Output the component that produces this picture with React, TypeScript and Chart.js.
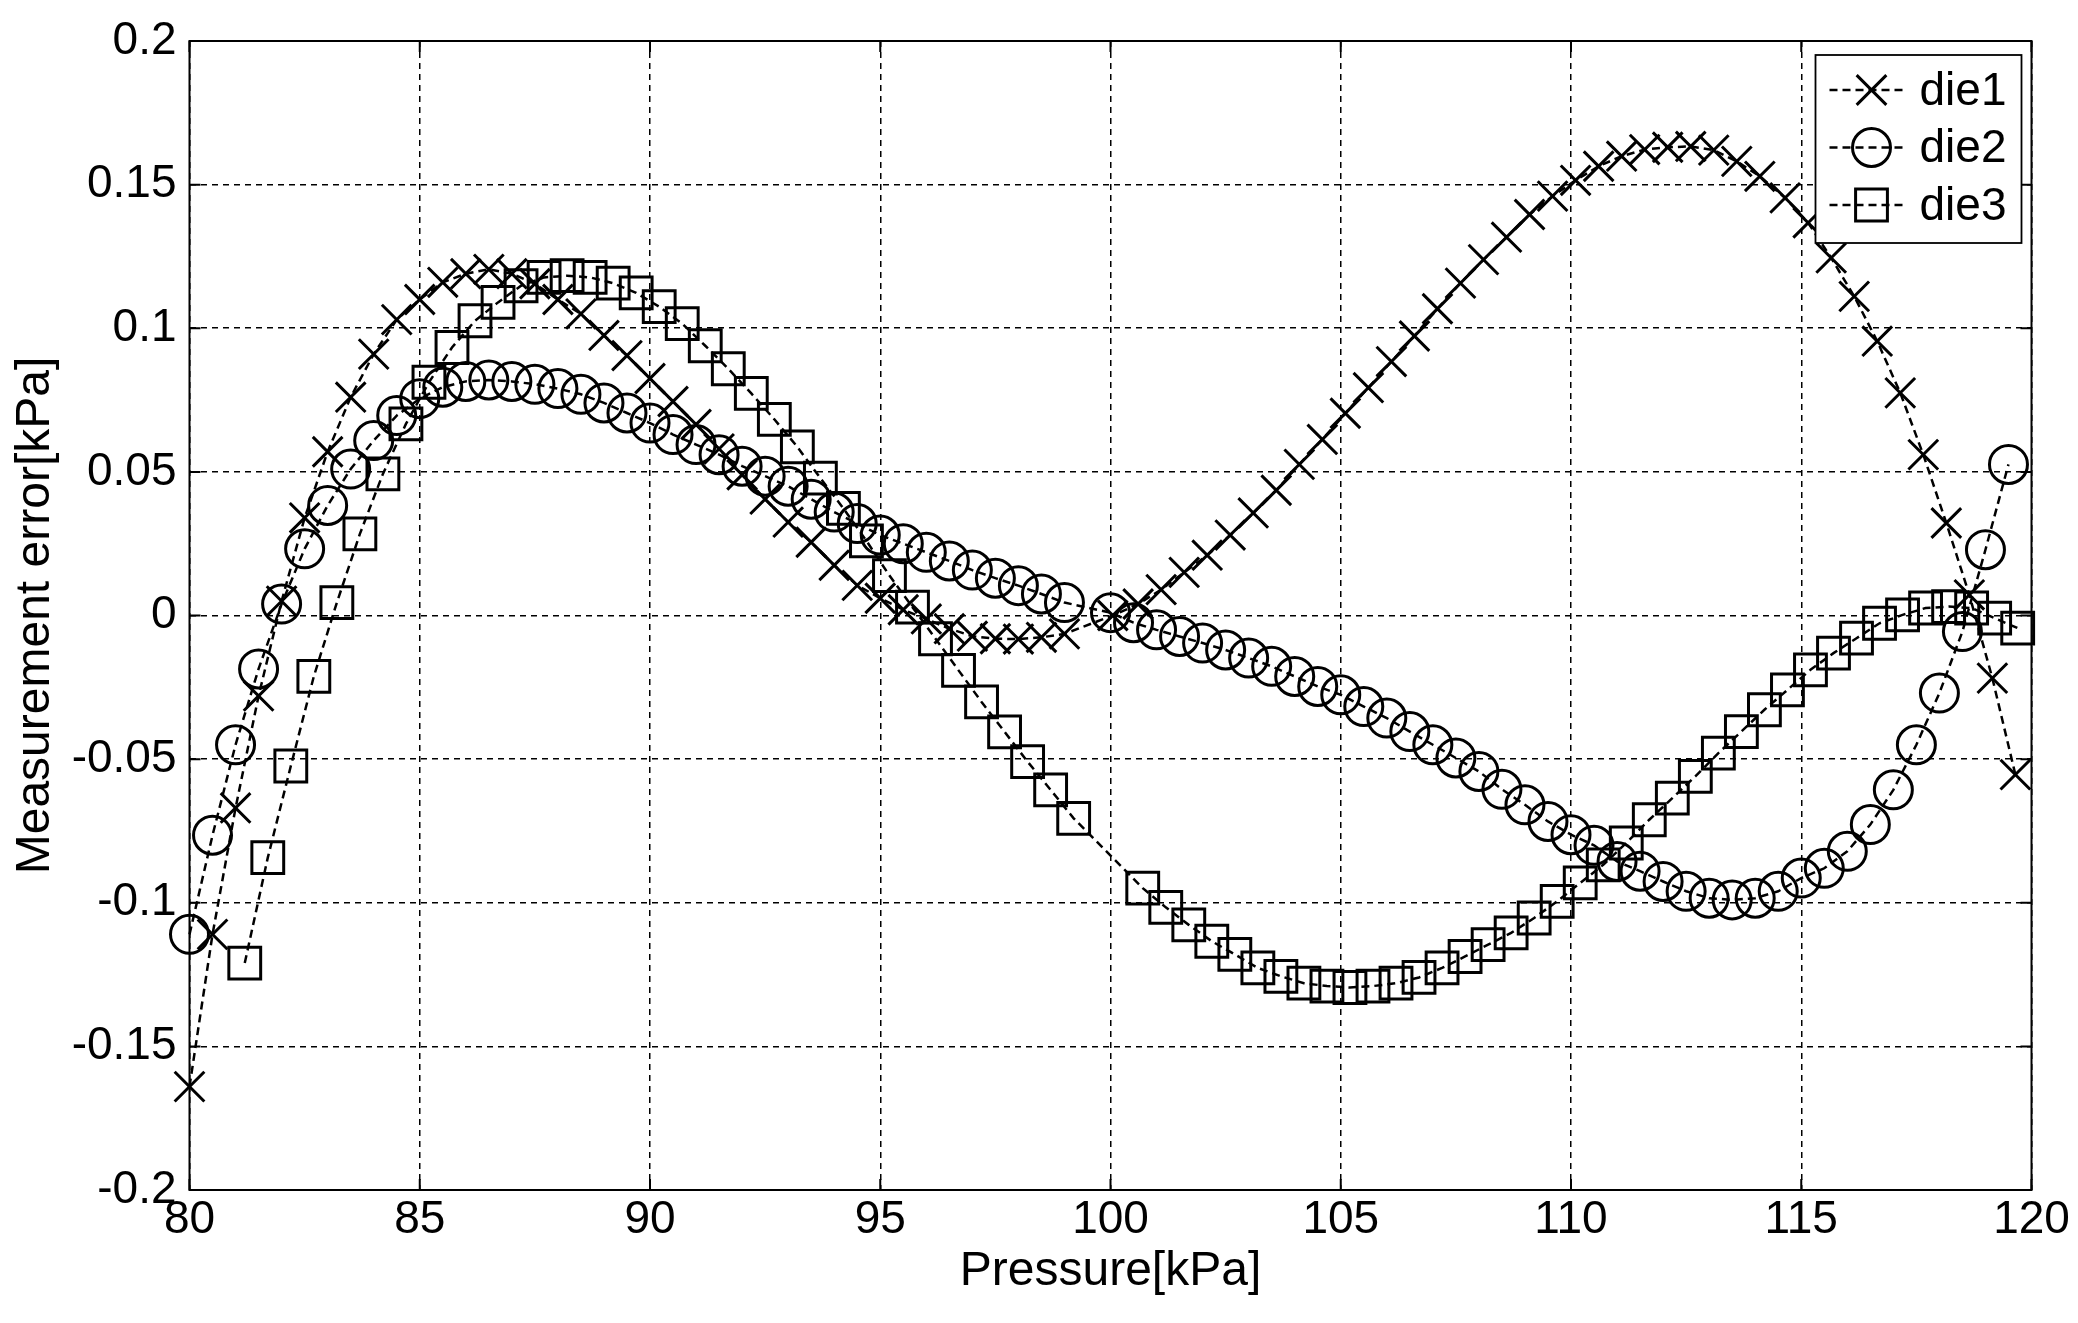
import { useEffect, useRef } from 'react'
import { Chart, registerables } from 'chart.js'
import { drawPoint } from 'chart.js/helpers'

Chart.register(...registerables)

const DIE1_X = [
  80, 80.5, 81, 81.5, 82, 82.5, 83, 83.5, 84, 84.5, 85, 85.5, 86, 86.5, 87, 87.5,
  88, 88.5, 89, 89.5, 90, 90.5, 91, 91.5, 92, 92.5, 93, 93.5, 94, 94.5, 95, 95.5,
  96, 96.5, 97, 97.5, 98, 98.5, 99,
  100.05, 100.6, 101.1, 101.6, 102.1, 102.6, 103.1, 103.6, 104.1, 104.6, 105.1,
  105.6, 106.1, 106.6, 107.1, 107.6, 108.1, 108.6, 109.1, 109.6, 110.1, 110.6,
  111.1, 111.6, 112.1, 112.6, 113.1, 113.6, 114.1, 114.65, 115.15, 115.65,
  116.15, 116.65, 117.15, 117.65, 118.15, 118.65, 119.15, 119.65,
]
const DIE1_Y = [
  -0.164, -0.111, -0.067, -0.028, 0.005, 0.034, 0.057, 0.076, 0.091, 0.103,
  0.11, 0.116, 0.119, 0.1205, 0.119, 0.1155, 0.11, 0.105, 0.0975, 0.0905,
  0.0825, 0.0745, 0.0665, 0.058, 0.049, 0.0405, 0.0325, 0.0255, 0.0175, 0.0105,
  0.006, 0.002, -0.0012, -0.0046, -0.0072, -0.0081, -0.0082, -0.0076, -0.0064,
  0.0, 0.004, 0.009, 0.015, 0.021, 0.028, 0.0357, 0.0436, 0.0526, 0.0613,
  0.0704, 0.0793, 0.0884, 0.0973, 0.1068, 0.1157, 0.1239, 0.1317, 0.1396, 0.146,
  0.1515, 0.1564, 0.1599, 0.1622, 0.163, 0.1633, 0.162, 0.1581, 0.1529, 0.1454,
  0.1367, 0.1245, 0.1111, 0.0955, 0.0775, 0.056, 0.0322, 0.0072, -0.0218, -0.0554,
]

const DIE2_X = [
  80, 80.5, 81, 81.5, 82, 82.5, 83, 83.5, 84, 84.5, 85, 85.5, 86, 86.5, 87, 87.5,
  88, 88.5, 89, 89.5, 90, 90.5, 91, 91.5, 92, 92.5, 93, 93.5, 94, 94.5, 95, 95.5,
  96, 96.5, 97, 97.5, 98, 98.5, 99,
  100, 100.5, 101, 101.5, 102, 102.5, 103, 103.5, 104, 104.5, 105, 105.5, 106,
  106.5, 107, 107.5, 108, 108.5, 109, 109.5, 110, 110.5, 111, 111.5, 112, 112.5,
  113, 113.5, 114, 114.5, 115, 115.5, 116, 116.5, 117, 117.5, 118, 118.5, 119, 119.5,
]
const DIE2_Y = [
  -0.111, -0.0765, -0.045, -0.0186, 0.004, 0.0232, 0.0383, 0.051, 0.0609, 0.0696,
  0.0755, 0.0795, 0.0815, 0.082, 0.0815, 0.0805, 0.079, 0.077, 0.074, 0.0705,
  0.067, 0.063, 0.0595, 0.056, 0.052, 0.0485, 0.045, 0.0405, 0.036, 0.032,
  0.028, 0.025, 0.022, 0.019, 0.0158, 0.013, 0.0104, 0.0075, 0.0045,
  0.001, -0.0025, -0.005, -0.0073, -0.0096, -0.012, -0.0148, -0.0177, -0.0212,
  -0.0247, -0.0276, -0.0317, -0.0357, -0.0404, -0.045, -0.0496, -0.0543, -0.0605,
  -0.0659, -0.0717, -0.0763, -0.08, -0.0856, -0.089, -0.0926, -0.096, -0.0984,
  -0.099, -0.0984, -0.096, -0.0914, -0.088, -0.0821, -0.0728, -0.0607, -0.045,
  -0.027, -0.0056, 0.0229, 0.0526,
]

const DIE3_X = [
  81.2, 81.7, 82.2, 82.7, 83.2, 83.7, 84.2, 84.7, 85.2, 85.7, 86.2, 86.7, 87.2,
  87.7, 88.2, 88.7, 89.2, 89.7, 90.2, 90.7, 91.2, 91.7, 92.2, 92.7, 93.2, 93.7,
  94.2, 94.7, 95.2, 95.7, 96.2, 96.7, 97.2, 97.7, 98.2, 98.7, 99.2,
  100.7, 101.2, 101.7, 102.2, 102.7, 103.2, 103.7, 104.2, 104.7, 105.2, 105.7,
  106.2, 106.7, 107.2, 107.7, 108.2, 108.7, 109.2, 109.7, 110.2, 110.7, 111.2,
  111.7, 112.2, 112.7, 113.2, 113.7, 114.2, 114.7, 115.2, 115.7, 116.2, 116.7,
  117.2, 117.7, 118.2, 118.7, 119.2, 119.7,
]
const DIE3_Y = [
  -0.121, -0.0843, -0.0524, -0.0212, 0.0045, 0.0284, 0.0493, 0.0667, 0.0812, 0.0933,
  0.1026, 0.109, 0.1148, 0.1177, 0.1183, 0.1177, 0.1157, 0.1123, 0.1075, 0.1016,
  0.0939, 0.0859, 0.0773, 0.0683, 0.0587, 0.0478, 0.0373, 0.026, 0.0139, 0.0029,
  -0.0081, -0.0191, -0.0301, -0.0405, -0.0509, -0.0607, -0.0706,
  -0.0949, -0.1016, -0.1077, -0.1134, -0.118, -0.1227, -0.1256, -0.128, -0.129, -0.1295,
  -0.129, -0.128, -0.126, -0.1227, -0.1187, -0.1146, -0.1105, -0.1053, -0.0995, -0.0931,
  -0.0868, -0.0792, -0.0711, -0.0636, -0.056, -0.0479, -0.0404, -0.0328, -0.0259, -0.0189,
  -0.0131, -0.0079, -0.0027, 0.0002, 0.0026, 0.0031, 0.0026, -0.0009, -0.0044,
]

const X_TICKS = [80, 85, 90, 95, 100, 105, 110, 115, 120]
const Y_TICKS = [-0.2, -0.15, -0.1, -0.05, 0, 0.05, 0.1, 0.15, 0.2]

const FONT = '"Liberation Sans", Arial, sans-serif'
const TICK_SIZE = 46
const TITLE_SIZE = 48
const LINE_DASH = [8, 5]

const SERIES = [
  { label: 'die1', xs: DIE1_X, ys: DIE1_Y, pointStyle: 'crossRot', radius: 21 },
  { label: 'die2', xs: DIE2_X, ys: DIE2_Y, pointStyle: 'circle', radius: 19 },
  { label: 'die3', xs: DIE3_X, ys: DIE3_Y, pointStyle: 'rect', radius: 22.5 },
]

// matlab style box + inward ticks
const framePlugin = {
  id: 'frame',
  afterDraw(chart: Chart) {
    const { ctx, chartArea: a, scales } = chart
    const t = 11
    ctx.save()
    ctx.setLineDash([])
    ctx.strokeStyle = '#000'
    ctx.lineWidth = 2
    ctx.beginPath()
    X_TICKS.forEach((v) => {
      const px = scales.x.getPixelForValue(v)
      ctx.moveTo(px, a.bottom)
      ctx.lineTo(px, a.bottom - t)
      ctx.moveTo(px, a.top)
      ctx.lineTo(px, a.top + t)
    })
    Y_TICKS.forEach((v) => {
      const py = scales.y.getPixelForValue(v)
      ctx.moveTo(a.left, py)
      ctx.lineTo(a.left + t, py)
      ctx.moveTo(a.right, py)
      ctx.lineTo(a.right - t, py)
    })
    ctx.stroke()
    ctx.strokeRect(a.left, a.top, a.right - a.left, a.bottom - a.top)
    ctx.restore()
  },
}

// legend box in the top right corner of the axes
const legendPlugin = {
  id: 'insideLegend',
  afterDraw(chart: Chart) {
    const { ctx, chartArea: a } = chart
    const w = 206
    const h = 188
    const left = a.right - 10 - w
    const top = a.top + 14
    ctx.save()
    ctx.fillStyle = '#fff'
    ctx.fillRect(left, top, w, h)
    ctx.setLineDash([])
    ctx.lineWidth = 1.8
    ctx.strokeStyle = '#000'
    ctx.strokeRect(left, top, w, h)

    SERIES.forEach((s, i) => {
      const y = top + 35 + i * 57.5
      ctx.setLineDash(LINE_DASH)
      ctx.lineWidth = 2.5
      ctx.beginPath()
      ctx.moveTo(left + 14, y)
      ctx.lineTo(left + 91, y)
      ctx.stroke()
      ctx.setLineDash([])
      ctx.lineWidth = 3
      ctx.fillStyle = 'rgba(0,0,0,0)'
      drawPoint(
        ctx,
        { pointStyle: s.pointStyle, radius: s.radius, rotation: 0, borderWidth: 3 } as any,
        left + 56,
        y
      )
      ctx.fillStyle = '#000'
      ctx.font = `${TICK_SIZE}px ${FONT}`
      ctx.textBaseline = 'middle'
      ctx.textAlign = 'left'
      ctx.fillText(s.label, left + 104, y + 2)
    })
    ctx.restore()
  },
}

export default function App() {
  const ref = useRef<HTMLCanvasElement>(null)

  useEffect(() => {
    if (!ref.current) return

    const datasets = SERIES.map((s) => ({
      label: s.label,
      data: s.xs.map((x, i) => ({ x, y: s.ys[i] })),
      showLine: true,
      borderColor: '#000',
      borderWidth: 2.5,
      borderDash: LINE_DASH,
      tension: 0,
      pointStyle: s.pointStyle as any,
      pointRadius: s.radius,
      pointHoverRadius: s.radius,
      pointBorderWidth: 3,
      pointBorderColor: '#000',
      pointBackgroundColor: 'rgba(0,0,0,0)',
      clip: false as const,
    }))

    const tickFont = { family: FONT, size: TICK_SIZE }
    const titleFont = { family: FONT, size: TITLE_SIZE }

    const chart = new Chart(ref.current, {
      type: 'scatter',
      data: { datasets },
      plugins: [framePlugin, legendPlugin],
      options: {
        animation: false,
        responsive: true,
        maintainAspectRatio: false,
        layout: { padding: { left: 0, top: 41, right: 46.5, bottom: 0 } },
        plugins: {
          legend: { display: false },
          tooltip: { enabled: false },
        },
        scales: {
          x: {
            type: 'linear',
            min: 80,
            max: 120,
            afterBuildTicks: (scale: any) => {
              scale.ticks = X_TICKS.map((value) => ({ value }))
            },
            afterFit: (scale: any) => {
              scale.height = 133
            },
            grid: { color: '#000', lineWidth: 1.5, drawTicks: false },
            border: { display: false, dash: [6, 5] },
            ticks: {
              font: tickFont,
              color: '#000',
              padding: 3,
              autoSkip: false,
              maxRotation: 0,
              callback: (v: any) => String(v),
            },
            title: {
              display: true,
              text: 'Pressure[kPa]',
              font: titleFont,
              color: '#000',
              padding: { top: 0, bottom: 22 },
            },
          },
          y: {
            type: 'linear',
            min: -0.2,
            max: 0.2,
            afterBuildTicks: (scale: any) => {
              scale.ticks = Y_TICKS.map((value) => ({ value }))
            },
            afterFit: (scale: any) => {
              scale.width = 189.5
            },
            grid: { color: '#000', lineWidth: 1.5, drawTicks: false },
            border: { display: false, dash: [6, 5] },
            ticks: {
              font: tickFont,
              color: '#000',
              padding: 13,
              autoSkip: false,
              callback: (v: any) => String(v),
            },
            title: {
              display: true,
              text: 'Measurement error[kPa]',
              font: titleFont,
              color: '#000',
              padding: { top: 7, bottom: 0 },
            },
          },
        },
      },
    })

    return () => chart.destroy()
  }, [])

  return (
    <div
      style={{
        position: 'fixed',
        left: 0,
        top: 0,
        width: 2078,
        height: 1323,
        background: '#fff',
      }}
    >
      <canvas ref={ref} role="img" aria-label="Measurement error versus pressure for die1, die2 and die3" />
    </div>
  )
}
